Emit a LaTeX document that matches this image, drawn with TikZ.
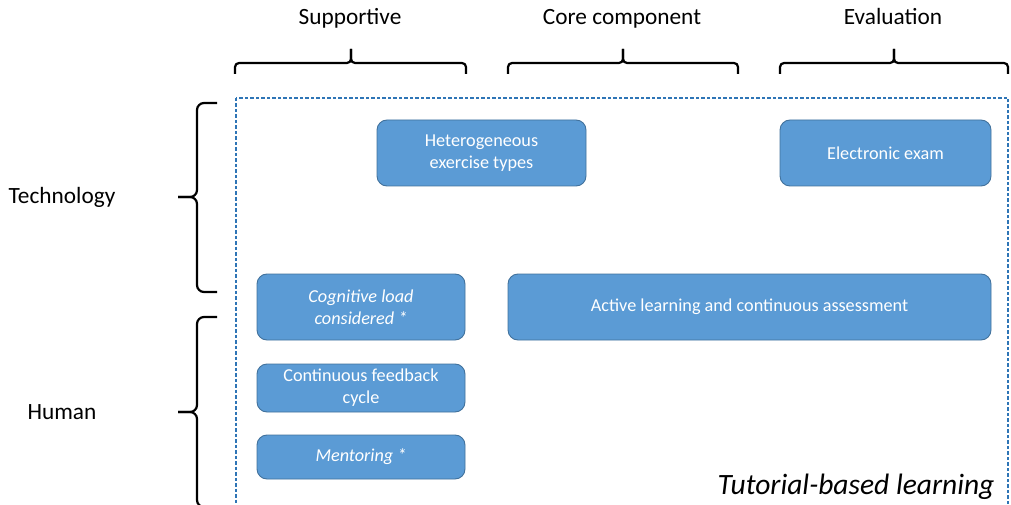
\documentclass[tikz,border=0pt]{standalone}
\usepackage{fontspec}
\setmainfont{Carlito}

\definecolor{boxblue}{HTML}{5B9BD5}
\definecolor{boxedge}{HTML}{41719C}
\definecolor{frameblue}{HTML}{2E75B6}

\tikzset{
  curly/.style={line width=2.2pt,rounded corners=#1},
  axislabel/.style={font=\fontsize{23.3}{28}\selectfont},
}

\begin{document}
\begin{tikzpicture}[x=1pt,y=-1pt]
\useasboundingbox (0,0) rectangle (1011,505);

% dashed frame around the building blocks
\draw[frameblue,line width=1.1pt,dash pattern=on 3.5pt off 2pt] (236,98) rectangle (1008,520);

\begin{scope}[every node/.style={rectangle,rounded corners=10pt,fill=boxblue,draw=boxedge,
      line width=0.9pt,text=white,align=center,inner sep=0pt,
      font=\fontsize{18.2}{22}\selectfont}]
    \node[minimum width=209pt,minimum height=66pt] (het) at (481.5,153) {Heterogeneous\\exercise types};
    \node[minimum width=211pt,minimum height=66pt] (exam) at (885.5,153) {Electronic exam};
    \node[minimum width=208pt,minimum height=66pt] (cog) at (361,307) {\itshape Cognitive load\\\itshape considered *};
    \node[minimum width=483pt,minimum height=66pt] (active) at (749.5,307) {Active learning and continuous assessment};
    \node[minimum width=208pt,minimum height=48pt] (feed) at (361,388) {Continuous feedback\\cycle};
    \node[minimum width=208pt,minimum height=44pt] (ment) at (361,457) {\itshape Mentoring *};
\end{scope}

% column and row headings
\begin{scope}[every node/.style={axislabel,anchor=base}]
    \node (sup) at (350,25) {Supportive};
    \node (core) at (622,25) {Core component};
    \node (eval) at (893,25) {Evaluation};
    \node (tech) at (62,204) {Technology};
    \node (hum) at (62,419) {Human};
\end{scope}

\node[anchor=base east,font=\fontsize{29.5}{34}\itshape] (tbl) at (998,494) {Tutorial-based learning};

% braces over the columns
\draw[curly=4pt] (235,74) |- (351,63) -- (351,49);
\draw[curly=4pt] (351,49) -- (351,63) -| (466,74);
\draw[curly=4pt] (508,74) |- (623,63) -- (623,49);
\draw[curly=4pt] (623,49) -- (623,63) -| (738,74);
\draw[curly=4pt] (780,74) |- (894,63) -- (894,49);
\draw[curly=4pt] (894,49) -- (894,63) -| (1008,74);

% braces beside the rows
\draw[curly=7pt] (217,103) -| (197,197) -- (178,197);
\draw[curly=7pt] (178,197) -- (197,197) |- (217,292);
\draw[curly=7pt] (217,317) -| (197,412) -- (178,412);
\draw[curly=7pt] (178,412) -- (197,412) |- (217,507);
\end{tikzpicture}
\end{document}
